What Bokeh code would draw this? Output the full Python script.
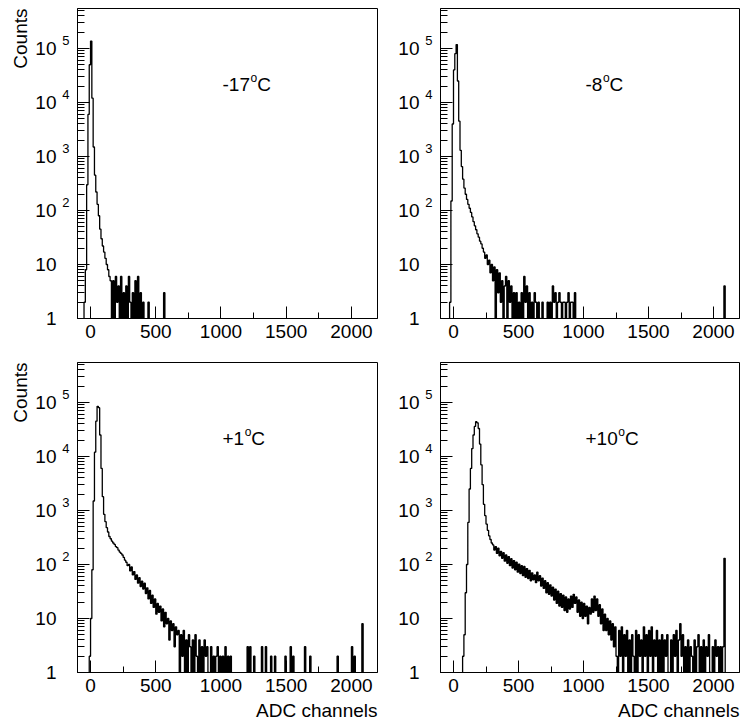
import numpy as np
from bokeh.plotting import figure
from bokeh.models import Range1d, FixedTicker, Label, LogAxis, LinearAxis, Title
from bokeh.layouts import column, row
from bokeh.embed import file_html
from bokeh.resources import INLINE

# ---------------- data (counts per bin of 10 ADC channels) -------------
BIN = 10
temperatures = ["-17", "-8", "+1", "+10"]

# -17 C
a_first_channel = -50
a_counts = [2, 8, 300, 6000, 50000, 137000, 12000, 1500, 450, 220,
            130, 80, 45, 30, 22, 17, 13, 10, 8, 6,
            5, 1, 5, 0, 6, 2, 4, 1, 6, 0,
            3, 1, 4, 0, 6, 2, 0, 3, 1, 5,
            0, 6, 1, 3, 0, 2]
a_extra_channels = [440, 560]
a_extra_counts = [2, 3]

# -8 C
b_first_channel = -30
b_counts = [2, 150, 4000, 40000, 80000, 118000, 25000, 4500, 1300, 650,
            380, 260, 200, 160, 130, 110, 92, 76, 62, 52,
            44, 37, 32, 27, 24, 20, 17, 13, 15, 10,
            12, 7, 10, 5, 9, 1, 8, 3, 7, 2,
            5, 0, 4, 6, 1, 5, 2, 4, 0, 3,
            1, 3, 0, 2, 1, 3, 0, 6, 2, 4,
            1, 3, 0, 2, 1, 3, 2, 0, 2, 1,
            0, 2, 0, 0, 0, 2, 0, 2, 1, 4,
            2, 3, 1, 2, 3, 2, 0, 2, 2, 1,
            2, 3, 1, 2, 2, 1, 3]
b_extra_channels = [2080]
b_extra_counts = [4]

# +1 C
c_first_channel = -10
c_counts = [2, 10, 80, 1500, 12000, 45000, 85000, 80000, 25000, 6000,
            1800, 850, 620, 480, 400, 330, 300, 270, 250, 235,
            215, 205, 185, 170, 160, 150, 135, 120, 110, 95,
            100, 76, 90, 64, 74, 53, 64, 45, 57, 39,
            49, 35, 45, 29, 37, 23, 33, 19, 27, 16,
            23, 12, 19, 13, 17, 9, 15, 7, 13, 8,
            10, 4, 9, 6, 8, 3, 7, 5, 6, 1,
            5, 2, 6, 0, 4, 1, 5, 3, 0, 4,
            1, 5, 2, 0, 4, 1, 3, 0, 4, 2,
            3, 1, 0, 3, 1, 2, 0, 2, 3, 0,
            2, 1, 2, 0, 3, 0, 2, 0, 2]
c_extra_channels = [1200, 1220, 1250, 1310, 1340, 1380, 1410, 1490, 1530, 1550, 1640, 1680,
                    1890, 2000, 2020, 2080]
c_extra_counts = [3, 3, 2, 3, 3, 2, 2, 2, 3, 2, 3, 2, 2, 3, 2, 8]

# +10 C
d_first_channel = 70
d_counts = [2, 5, 30, 100, 600, 2500, 6000, 14000, 25000, 36000,
            44000, 42000, 33000, 17000, 7000, 3000, 1300, 800, 560, 430,
            340, 290, 250, 230, 185, 215, 160, 200, 145, 175,
            130, 165, 115, 150, 105, 140, 95, 128, 86, 118,
            80, 110, 72, 102, 68, 95, 62, 92, 58, 84,
            55, 78, 50, 70, 52, 64, 46, 72, 50, 62,
            40, 56, 36, 50, 30, 46, 28, 42, 26, 38,
            22, 35, 19, 32, 17, 29, 16, 27, 14, 25,
            13, 23, 15, 26, 16, 28, 19, 25, 13, 22,
            11, 20, 10, 19, 11, 17, 8, 16, 12, 23,
            13, 26, 14, 23, 11, 18, 8, 15, 6, 12,
            6, 10, 5, 9, 4, 8, 3, 7, 2, 0,
            6, 2, 7, 1, 5, 2, 6, 1, 4, 0,
            5, 2, 0, 6, 1, 5, 2, 4, 0, 7,
            2, 5, 1, 6, 2, 7, 1, 4, 2, 6,
            1, 4, 0, 5, 1, 4, 2, 5, 1, 0,
            4, 1, 5, 2, 6, 1, 4, 8, 2, 5,
            1, 3, 0, 4, 1, 3, 2, 0, 4, 1,
            3, 5, 1, 3, 0, 4, 1, 3, 2, 5,
            1, 0, 3, 1, 4, 2, 3, 0, 3, 1,
            3]
d_extra_channels = [2080]
d_extra_counts = [130]

# axes
x_ticks = [0, 500, 1000, 1500, 2000]
x_tick_labels = ["0", "500", "1000", "1500", "2000"]
y_ticks = [1, 10, 100, 1000, 10000, 100000]
y_tick_labels = ["1", "10", "10", "10", "10", "10"]
y_tick_exponents = ["", "", "2", "3", "4", "5"]
x_title = "ADC channels"
y_title = "Counts"

# ---------------- styling / layout -------------
X_LO, X_HI = -100, 2200
Y_LO, Y_HI = 1, 5.5e5
FONT = "Liberation Sans"
FS_PX = 19
FS = f"{FS_PX}px"
# Liberation Sans advance widths (em)
ADV = {"-": 0.333, "+": 0.584, " ": 0.278, "A": 0.667, "C": 0.722, "D": 0.722, "a": 0.556,
       "c": 0.5, "e": 0.556, "h": 0.556, "l": 0.222, "n": 0.556, "s": 0.5}
ADV.update({d: 0.556 for d in "0123456789"})
EXP_RAISE = 10 ** (8 / 53.8)   # exponent drawn ~8 px above its decade tick

x_minor = [t + 250 for t in x_ticks[:-1]]
y_minor = [m * 10 ** k for k in range(6) for m in range(2, 10) if m * 10 ** k < Y_HI]

edges = np.arange(X_LO, X_HI + BIN, BIN)


def text_width(s, px=FS_PX):
    return sum(ADV[ch] for ch in s) * px


def full_counts(first, counts, extra_ch, extra_c):
    arr = np.zeros(len(edges) - 1)
    i0 = (first - X_LO) // BIN
    arr[i0:i0 + len(counts)] = counts
    for ch, c in zip(extra_ch, extra_c):
        arr[(ch - X_LO) // BIN] = c
    return arr


def bare_axis(ax):
    ax.axis_line_color = None
    ax.major_tick_line_color = None
    ax.minor_tick_line_color = None
    ax.major_tick_in = 0
    ax.major_tick_out = 0
    ax.minor_tick_in = 0
    ax.minor_tick_out = 0
    ax.major_label_text_font = FONT
    ax.major_label_text_color = "black"


def make_panel(first, counts, extra_ch, extra_c, temp, width, height, bl, br, bt, bb,
               show_ytitle, show_xtitle):
    p = figure(width=width, height=height, x_range=Range1d(X_LO, X_HI),
               y_range=Range1d(Y_LO, Y_HI), y_axis_type="log", output_backend="svg",
               toolbar_location=None, min_border_left=bl, min_border_right=br,
               min_border_top=bt, min_border_bottom=bb)
    p.background_fill_color = "white"
    p.border_fill_color = "white"
    p.outline_line_color = "black"
    p.outline_line_width = 1
    p.xgrid.visible = False
    p.ygrid.visible = False

    arr = full_counts(first, counts, extra_ch, extra_c)
    xs = np.repeat(edges, 2)[1:-1]
    ys = np.repeat(np.where(arr > 0, arr, 0.3), 2)
    p.line(xs, ys, line_color="black", line_width=1.3)

    xa = p.xaxis[0]
    ya = p.yaxis[0]
    for ax in (xa, ya):
        ax.axis_line_color = "black"
        ax.major_tick_line_color = "black"
        ax.minor_tick_line_color = "black"
        ax.major_tick_out = 0
        ax.minor_tick_out = 0
        ax.major_tick_in = 12
        ax.major_label_text_font = FONT
        ax.major_label_text_font_size = FS
        ax.major_label_text_color = "black"
    xa.minor_tick_in = 6
    ya.minor_tick_in = 7
    xa.ticker = FixedTicker(ticks=x_ticks, minor_ticks=x_minor)
    xa.major_label_overrides = dict(zip(x_ticks, x_tick_labels))
    xa.major_label_standoff = 6

    # innermost y axis: only the tick marks
    ya.ticker = FixedTicker(ticks=y_ticks, minor_ticks=y_minor)
    ya.major_label_overrides = {t: "" for t in y_ticks}
    ya.major_label_standoff = 0

    # exponents, raised above their decade
    exp_ticks = [t * EXP_RAISE for t, e in zip(y_ticks, y_tick_exponents) if e]
    exp_labels = [e for e in y_tick_exponents if e]
    ea = LogAxis(ticker=FixedTicker(ticks=exp_ticks, minor_ticks=[]),
                 major_label_overrides=dict(zip(exp_ticks, exp_labels)))
    bare_axis(ea)
    ea.major_label_text_font_size = "13px"
    ea.major_label_standoff = 8
    p.add_layout(ea, "left")

    # mantissas "1", "10"
    ta = LogAxis(ticker=FixedTicker(ticks=y_ticks, minor_ticks=[]),
                 major_label_overrides=dict(zip(y_ticks, y_tick_labels)))
    bare_axis(ta)
    ta.major_label_text_font_size = FS
    ta.major_label_standoff = 3
    p.add_layout(ta, "left")

    if show_ytitle:
        p.add_layout(Title(text=y_title, align="right", vertical_align="top", standoff=0,
                           offset=0, text_font=FONT, text_font_size=FS,
                           text_font_style="normal", text_color="black"), "left")
    if show_xtitle:
        # axis title, right-aligned at the frame's right edge (drawn as a centred label)
        frame_w = width - bl - br
        half = 0.5 * text_width(x_title) * (X_HI - X_LO) / frame_w
        pos = X_HI - half
        ta_x = LinearAxis(ticker=FixedTicker(ticks=[pos], minor_ticks=[]),
                          major_label_overrides={pos: x_title})
        bare_axis(ta_x)
        ta_x.major_label_text_font_size = FS
        ta_x.major_label_standoff = 5
        p.add_layout(ta_x, "below")

    # temperature label  e.g. -17 ^o C
    w_main = text_width(temp)
    lx, ly = 145, -76
    p.add_layout(Label(x=X_LO, y=Y_HI, x_offset=lx, y_offset=ly, text=temp,
                       text_align="left", text_baseline="alphabetic",
                       text_font=FONT, text_font_size=FS, text_color="black"))
    p.add_layout(Label(x=X_LO, y=Y_HI, x_offset=lx + w_main + 0.5, y_offset=ly + 7, text="o",
                       text_align="left", text_baseline="alphabetic",
                       text_font=FONT, text_font_size="12px", text_color="black"))
    p.add_layout(Label(x=X_LO, y=Y_HI, x_offset=lx + w_main + 7.2, y_offset=ly, text="C",
                       text_align="left", text_baseline="alphabetic",
                       text_font=FONT, text_font_size=FS, text_color="black"))
    return p


p1 = make_panel(a_first_channel, a_counts, a_extra_channels, a_extra_counts, temperatures[0],
                380, 352, 77, 3, 8, 34, True, False)
p2 = make_panel(b_first_channel, b_counts, b_extra_channels, b_extra_counts, temperatures[1],
                360, 352, 60, 1, 8, 34, False, False)
p3 = make_panel(c_first_channel, c_counts, c_extra_channels, c_extra_counts, temperatures[2],
                380, 373, 77, 3, 10, 53, True, True)
p4 = make_panel(d_first_channel, d_counts, d_extra_channels, d_extra_counts, temperatures[3],
                360, 373, 60, 1, 10, 53, False, True)

layout = column(row(p1, p2), row(p3, p4))
open("out.html", "w").write(file_html(layout, INLINE))
